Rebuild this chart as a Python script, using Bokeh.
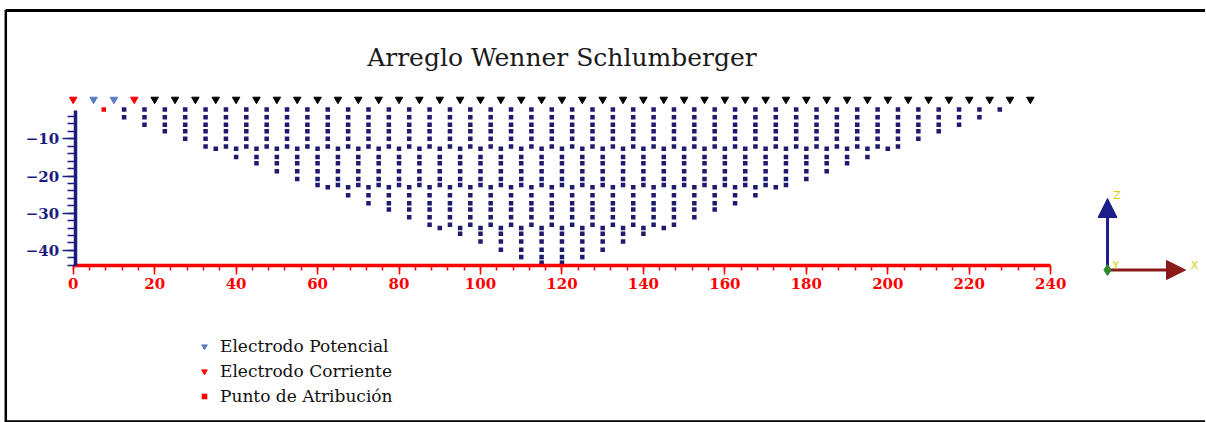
import numpy as np
from bokeh.plotting import figure
from bokeh.models import (Range1d, LinearAxis, SingleIntervalTicker, Legend, LegendItem,
                          Label, Arrow, NormalHead)
from bokeh.embed import file_html
from bokeh.resources import INLINE

TITLE = "Arreglo Wenner Schlumberger"

# Electrode positions along the profile (m)
electrode_x = [0, 5, 10, 15, 20, 25, 30, 35, 40, 45, 50, 55, 60, 65, 70, 75,
               80, 85, 90, 95, 100, 105, 110, 115, 120, 125, 130, 135, 140, 145,
               150, 155, 160, 165, 170, 175, 180, 185, 190, 195, 200, 205, 210,
               215, 220, 225, 230, 235]
current_electrode_x = [0, 15]
potential_electrode_x = [5, 10]
electrode_z = 0.6

# Pseudo-section levels: depth and first / last midpoint of each level (m)
level_depth = [-2.1, -4.2, -6.2, -8.0, -10.0, -12.1,
               -12.7, -14.9, -16.6, -18.7, -20.8, -22.4,
               -23.0, -25.2, -27.3, -29.0, -31.1, -33.1,
               -34.0, -35.5, -37.6, -39.8, -41.8, -43.3]
level_first_x = [7.5, 12.5, 17.5, 22.5, 27.5, 32.5,
                 35, 40, 45, 50, 55, 60,
                 62.5, 67.5, 72.5, 77.5, 82.5, 87.5,
                 90, 95, 100, 105, 110, 115]
level_last_x = [227.5, 222.5, 217.5, 212.5, 207.5, 202.5,
                200, 195, 190, 185, 180, 175,
                172.5, 167.5, 162.5, 157.5, 152.5, 147.5,
                145, 140, 135, 130, 125, 120]
midpoint_step = 5

# Attribution point of the first quadrupole
attribution_x = [7.5]
attribution_z = [-2.1]

# x-axis tick labels every 20 m, depth labels every 10 m
x_tick_interval = 20
z_tick_interval = 10

NAVY = "#1e1a6e"
AXIS_NAVY = "#1c1c80"
RED = "#ff0000"
BLUE = "#5a7cc4"
SERIF = "DejaVu Serif"

# measurement points of every level
pts_x, pts_z = [], []
for d, a, b in zip(level_depth, level_first_x, level_last_x):
    for x in np.arange(a, b + midpoint_step / 2, midpoint_step):
        if x == attribution_x[0] and d == attribution_z[0]:
            continue
        pts_x.append(float(x))
        pts_z.append(d)

other_x = [x for x in electrode_x
           if x not in current_electrode_x and x not in potential_electrode_x]

p = figure(width=1206, height=422, output_backend="svg", toolbar_location=None,
           title=None, x_axis_location=None, y_axis_location=None,
           x_range=Range1d(-17.85, 278.25), y_range=Range1d(-86.26, 27.18),
           min_border=0)
p.outline_line_color = None
p.grid.visible = False
p.background_fill_color = "white"
p.border_fill_color = "white"

# page frame: top, left and bottom rules
p.segment(x0=[-16.6, -16.55, -16.6], y0=[24.49, 24.6, -85.94],
          x1=[277.9, -16.55, 277.9], y1=[24.49, -86.3, -85.94],
          line_color="black", line_width=[3, 2.5, 2])

# pseudo-section points
p.scatter(pts_x, pts_z, marker="square", size=4.5, fill_color=NAVY, line_color=None)
r_attr = p.scatter(attribution_x, attribution_z, marker="square", size=4.5,
                   fill_color=RED, line_color=None)

# electrodes
p.scatter(other_x, [electrode_z] * len(other_x), marker="inverted_triangle",
          size=7.5, fill_color="black", line_color="black")
r_pot = p.scatter(potential_electrode_x, [electrode_z] * len(potential_electrode_x),
                  marker="inverted_triangle", size=7.5, fill_color=BLUE, line_color=BLUE)
r_cur = p.scatter(current_electrode_x, [electrode_z] * len(current_electrode_x),
                  marker="inverted_triangle", size=7.5, fill_color=RED, line_color=RED)

# axes
xaxis = LinearAxis(fixed_location=-44, bounds=(0, 240),
                   ticker=SingleIntervalTicker(interval=x_tick_interval, num_minor_ticks=5))
xaxis.axis_line_color = RED
xaxis.axis_line_width = 3.5
xaxis.major_tick_line_color = RED
xaxis.major_tick_line_width = 1.5
xaxis.major_tick_out = 9
xaxis.major_tick_in = 0
xaxis.minor_tick_line_color = RED
xaxis.minor_tick_line_width = 1.5
xaxis.minor_tick_out = 5
xaxis.minor_tick_in = 0
xaxis.major_label_text_color = RED
xaxis.major_label_text_font = SERIF
xaxis.major_label_text_font_style = "bold"
xaxis.major_label_text_font_size = "15px"
xaxis.major_label_standoff = 4
p.add_layout(xaxis, "below")

zaxis = LinearAxis(fixed_location=0.5, bounds=(-44, -2.5),
                   ticker=SingleIntervalTicker(interval=z_tick_interval, num_minor_ticks=5))
zaxis.axis_line_color = AXIS_NAVY
zaxis.axis_line_width = 3.5
zaxis.major_tick_line_color = AXIS_NAVY
zaxis.major_tick_line_width = 1.5
zaxis.major_tick_out = 13
zaxis.major_tick_in = 0
zaxis.minor_tick_line_color = AXIS_NAVY
zaxis.minor_tick_line_width = 1.5
zaxis.minor_tick_out = 8
zaxis.minor_tick_in = 0
zaxis.major_label_text_color = AXIS_NAVY
zaxis.major_label_text_font = SERIF
zaxis.major_label_text_font_style = "bold"
zaxis.major_label_text_font_size = "15px"
zaxis.major_label_standoff = 3
p.add_layout(zaxis, "left")

# title
p.add_layout(Label(x=120, y=11.85, text=TITLE, text_align="center",
                   text_baseline="alphabetic", text_font=SERIF,
                   text_font_size="25px", text_color="#1a1a1a"))

# orientation triad
TRIAD_BLUE = "#1c1c8c"
TRIAD_RED = "#8b1a1a"
TRIAD_YELLOW = "#d8cc10"
p.add_layout(Arrow(end=NormalHead(size=19, fill_color=TRIAD_BLUE, line_color=TRIAD_BLUE),
                   x_start=253.95, y_start=-45.27, x_end=253.95, y_end=-26.05,
                   line_color=TRIAD_BLUE, line_width=3))
p.add_layout(Arrow(end=NormalHead(size=19, fill_color=TRIAD_RED, line_color=TRIAD_RED),
                   x_start=253.95, y_start=-45.27, x_end=273.1, y_end=-45.27,
                   line_color=TRIAD_RED, line_width=3))
p.scatter([253.95], [-45.27], marker="diamond", size=11,
          fill_color="#2e8b2e", line_color="#2e8b2e", level="overlay")
for txt, tx, ty in [("Z", 256.3, -25.3), ("X", 275.3, -44.1), ("Y", 256.0, -44.0)]:
    p.add_layout(Label(x=tx, y=ty, text=txt, text_align="center", text_baseline="middle",
                       text_font="DejaVu Sans", text_font_size="11px",
                       text_color=TRIAD_YELLOW))

# legend
legend = Legend(items=[LegendItem(label="Electrodo Potencial", renderers=[r_pot]),
                       LegendItem(label="Electrodo Corriente", renderers=[r_cur]),
                       LegendItem(label="Punto de Atribución", renderers=[r_attr])],
                location=(197, 16), glyph_width=14, glyph_height=14, label_height=20,
                spacing=5, padding=0, margin=0, border_line_color=None,
                background_fill_alpha=0, label_text_font=SERIF,
                label_text_font_size="17px", label_text_color="#111111",
                label_standoff=9)
p.add_layout(legend)

open("out.html", "w").write(file_html(p, INLINE))
